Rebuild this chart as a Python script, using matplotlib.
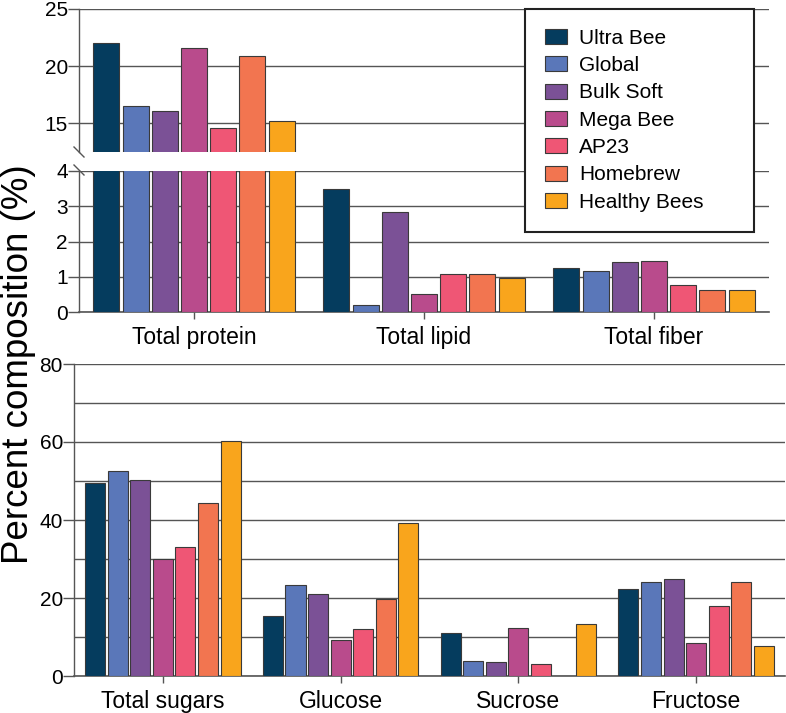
import numpy as np
import matplotlib as mpl
mpl.use('Agg')
import matplotlib.pyplot as plt
from matplotlib.patches import Patch

plt.rcParams['font.family'] = ['Liberation Sans', 'DejaVu Sans']

products = ['Ultra Bee', 'Global', 'Bulk Soft', 'Mega Bee', 'AP23', 'Homebrew', 'Healthy Bees']
colors = ['#053c5e', '#5a77b9', '#7b5196', '#b94b8c', '#ef5675', '#f27550', '#f9a51c']

# top panel: protein / lipid / fiber
top_cats = ['Total protein', 'Total lipid', 'Total fiber']
protein = [22.0, 16.55, 16.05, 21.55, 14.62, 20.85, 15.24]
lipid = [3.48, 0.21, 2.85, 0.51, 1.07, 1.09, 0.96]
fiber = [1.24, 1.16, 1.41, 1.44, 0.76, 0.62, 0.62]

# bottom panel: sugars
bot_cats = ['Total sugars', 'Glucose', 'Sucrose', 'Fructose']
sugars = [49.5, 52.6, 50.2, 30.0, 33.1, 44.4, 60.2]
glucose = [15.5, 23.4, 21.0, 9.15, 12.0, 19.8, 39.2]
sucrose = [11.0, 3.85, 3.6, 12.3, 3.0, 0.1, 13.3]
fructose = [22.4, 24.0, 25.0, 8.4, 17.9, 24.1, 7.6]

top_vals = np.array([protein, lipid, fiber]).T
bot_vals = np.array([sugars, glucose, sucrose, fructose]).T

W, H = 786, 713
fig = plt.figure(figsize=(W / 100, H / 100), dpi=100)

def px(l, t, r, b):
    return [l / W, 1 - b / H, (r - l) / W, (b - t) / H]

ax_hi = fig.add_axes(px(79, 9, 769, 152))
ax_lo = fig.add_axes(px(79, 171, 769, 312))
ax_b = fig.add_axes(px(74, 364, 785, 676))

grid_c = '#555555'
edge_c = '#3a3a3a'
fs_tick = 15
fs_cat = 16.5

def draw_bars(ax, vals, ncat):
    x = np.arange(ncat)
    step = 0.127
    w = 0.113
    for i in range(len(products)):
        ax.bar(x + (i - 3) * step, vals[i], width=w, color=colors[i],
               edgecolor=edge_c, linewidth=0.8, zorder=3)
    ax.set_xlim(-0.5, ncat - 0.5)

for ax in (ax_hi, ax_lo):
    draw_bars(ax, top_vals, 3)
draw_bars(ax_b, bot_vals, 4)

# upper part of the broken axis
ax_hi.set_ylim(12.5, 25)
ax_hi.set_yticks([15, 20, 25])
ax_hi.set_xticks([])
for s in ['top', 'right', 'bottom']:
    ax_hi.spines[s].set_visible(False)

ax_lo.set_ylim(0, 4)
ax_lo.set_yticks([0, 1, 2, 3, 4])
ax_lo.set_xticks(range(3))
ax_lo.set_xticklabels(top_cats)
for s in ['top', 'right']:
    ax_lo.spines[s].set_visible(False)

ax_b.set_ylim(0, 80)
ax_b.set_yticks([0, 20, 40, 60, 80])
ax_b.set_yticks(np.arange(10, 80, 20), minor=True)
ax_b.set_xticks(range(4))
ax_b.set_xticklabels(bot_cats)
for s in ['top', 'right']:
    ax_b.spines[s].set_visible(False)

for ax in (ax_hi, ax_lo, ax_b):
    ax.set_facecolor('none')
    ax.spines['left'].set_color(grid_c)
    ax.spines['bottom'].set_color(grid_c)
    ax.spines['left'].set_linewidth(1.0)
    ax.spines['bottom'].set_linewidth(1.2)
    ax.tick_params(axis='y', which='major', length=8, width=1.0, color=grid_c,
                   labelsize=fs_tick, pad=0)
    ax.tick_params(axis='y', which='minor', length=0)
    ax.tick_params(axis='x', length=5, width=1.0, color=grid_c, labelsize=fs_cat, pad=5)
    ax.yaxis.grid(True, which='both', color=grid_c, linewidth=1.0, zorder=0)
    ax.set_axisbelow(True)

ax_lo.spines['left'].set_bounds(0, 4)

# break marks
for y in (152, 170):
    fig.add_artist(plt.Line2D([74 / W, 84 / W], [1 - (y - 5) / H, 1 - (y + 5) / H],
                              color=grid_c, linewidth=1.0))

fig.text(1 / W, 1 - 364 / H, 'Percent composition (%)', rotation=90,
         ha='left', va='center', fontsize=26.5)

# legend on the figure so it sits above both top axes
handles = [Patch(facecolor=c, edgecolor=edge_c, linewidth=0.8) for c in colors]
leg = fig.legend(handles, products, loc='upper left',
                 bbox_to_anchor=(525 / W, 1 - 9 / H, 229 / W, 0),
                 bbox_transform=fig.transFigure, mode='expand',
                 fontsize=15, frameon=True, fancybox=False, framealpha=1,
                 handlelength=1.05, handleheight=0.75, handletextpad=0.6,
                 labelspacing=0.4, borderpad=0.95, borderaxespad=0)
leg.get_frame().set_edgecolor('#222222')
leg.get_frame().set_linewidth(1.5)
leg.set_zorder(10)

fig.savefig('out.png', dpi=100)
